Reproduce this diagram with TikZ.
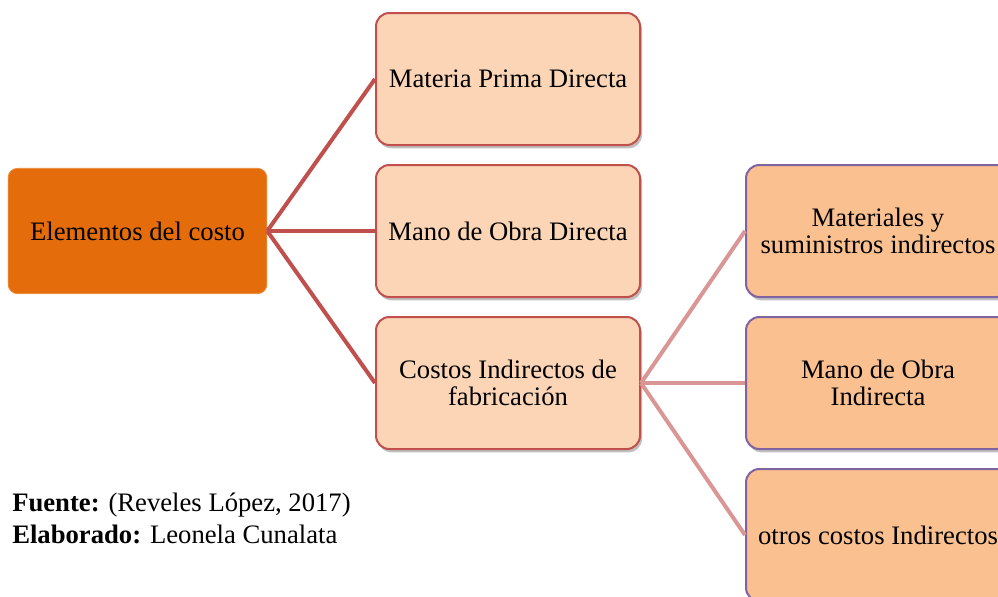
\documentclass[tikz,border=0pt]{standalone}
\usepackage{fontspec}
\setmainfont{Liberation Serif}
\usetikzlibrary{shadows}

\definecolor{naranja}{HTML}{E46C0A}
\definecolor{bordenaranja}{HTML}{F08A3A}
\definecolor{durazno}{HTML}{FBD5B5}
\definecolor{rojo}{HTML}{C0504D}
\definecolor{salmon}{HTML}{FAC090}
\definecolor{morado}{HTML}{8064A2}
\definecolor{rosa}{HTML}{D99694}

\begin{document}
\begin{tikzpicture}[x=0.75pt, y=-0.75pt, font=\fontsize{20}{20}\selectfont,
  raiz/.style={rectangle, rounded corners=7pt, fill=naranja, draw=bordenaranja, line width=0.6pt,
    minimum width=194pt, minimum height=94pt, align=center},
  nivel/.style={rectangle, rounded corners=10pt, line width=1.5pt, minimum width=198pt,
    minimum height=99pt, align=center,
    drop shadow={shadow xshift=1.5pt, shadow yshift=-2.5pt, fill=black, opacity=0.25}},
  nivela/.style={nivel, fill=durazno, draw=rojo},
  nivelb/.style={nivel, fill=salmon, draw=morado},
  rama/.style={draw=rojo, line width=3pt},
  ramab/.style={draw=rosa, line width=3pt},
  pie/.style={anchor=base west, inner sep=0pt}]
\clip (0,0) rectangle (998,596);
\node[raiz] (elem) at (137.5,231) {Elementos del costo};
\node[nivela] (mpd) at (508,79) {Materia Prima Directa};
\node[nivela] (mod) at (508,231) {Mano de Obra Directa};
\node[nivela] (cif) at (508,383) {Costos Indirectos de\\fabricación};
\node[nivelb] (mat) at (878,231) {Materiales y\\suministros indirectos};
\node[nivelb] (moi) at (878,383) {Mano de Obra\\Indirecta};
\node[nivelb] (otr) at (878,535) {otros costos Indirectos};
% ramas
\foreach \hijo in {mpd,mod,cif}
  \draw[rama] (elem.east) -- (\hijo.west);
\foreach \hijo in {mat,moi,otr}
  \draw[ramab] (cif.east) -- (\hijo.west);
% fuente
\node[pie] (fuente) at (12,511) {\textbf{Fuente:} (Reveles López, 2017)};
\node[pie] (elab) at (12,543) {\textbf{Elaborado:} Leonela Cunalata};
\end{tikzpicture}
\end{document}
